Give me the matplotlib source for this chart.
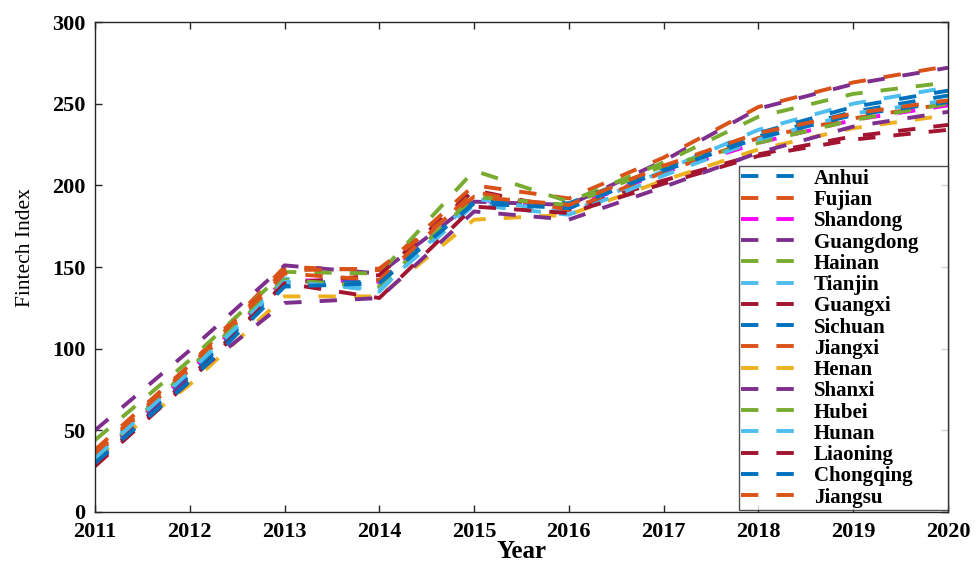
import matplotlib
matplotlib.use("Agg")
import matplotlib.pyplot as plt

years = [2011, 2012, 2013, 2014, 2015, 2016, 2017, 2018, 2019, 2020]

provinces = ["Anhui", "Fujian", "Shandong", "Guangdong", "Hainan", "Tianjin",
             "Guangxi", "Sichuan", "Jiangxi", "Henan", "Shanxi", "Hubei",
             "Hunan", "Liaoning", "Chongqing", "Jiangsu"]

anhui     = [32, 84, 141, 140, 190, 187, 210, 230, 245, 255]
fujian    = [38, 90, 150, 148, 200, 192, 217, 248, 263, 273]
shandong  = [31, 86, 142, 141, 191, 186, 208, 226, 240, 249]
guangdong = [50, 99, 151, 146, 190, 188, 215, 247, 262, 272]
hainan    = [44, 93, 147, 146, 209, 190, 214, 242, 256, 263]
tianjin   = [34, 88, 143, 135, 192, 183, 209, 234, 250, 260]
guangxi   = [29, 82, 140, 145, 197, 185, 203, 219, 230, 237]
sichuan   = [31, 83, 140, 141, 190, 189, 211, 232, 248, 258]
jiangxi   = [35, 87, 146, 142, 196, 185, 208, 229, 241, 250]
henan     = [33, 78, 132, 132, 179, 182, 203, 222, 235, 243]
shanxi    = [30, 82, 128, 131, 184, 179, 199, 220, 236, 245]
hubei     = [32, 88, 142, 138, 193, 188, 212, 226, 240, 250]
hunan     = [33, 86, 141, 136, 188, 182, 206, 228, 244, 252]
liaoning  = [28, 80, 140, 131, 187, 183, 201, 218, 228, 234]
chongqing = [30, 80, 138, 140, 189, 186, 209, 229, 243, 251]
jiangsu   = [36, 89, 148, 149, 193, 188, 212, 232, 244, 252]

series = [anhui, fujian, shandong, guangdong, hainan, tianjin, guangxi, sichuan,
          jiangxi, henan, shanxi, hubei, hunan, liaoning, chongqing, jiangsu]

colors = ["#0072BD", "#D95319", "#FF00FF", "#7E2F8E", "#77AC30", "#4DBEEE",
          "#A2142F", "#0072BD", "#D95319", "#EDB120", "#7E2F8E", "#77AC30",
          "#4DBEEE", "#A2142F", "#0072BD", "#D95319"]

plt.rcParams["lines.scale_dashes"] = False
plt.rcParams["font.family"] = ["Liberation Serif", "DejaVu Serif"]

fig = plt.figure(figsize=(9.76, 5.63), dpi=100)
ax = fig.add_axes([0.0973, 0.0906, 0.8740, 0.8703])

for name, vals, c in zip(provinces, series, colors):
    ax.plot(years, vals, color=c, lw=2.8, linestyle=(0, (12.5, 13)),
            label=name, dash_capstyle="butt")

ax.set_xlim(2011, 2020)
ax.set_ylim(0, 300)
ax.set_xticks(years)
ax.set_yticks([0, 50, 100, 150, 200, 250, 300])
ax.tick_params(direction="in", top=True, right=True, length=5, width=1,
               color="#262626", labelsize=16)
ax.tick_params(axis="x", pad=7)
ax.tick_params(axis="y", pad=7)
for lab in ax.get_xticklabels() + ax.get_yticklabels():
    lab.set_fontweight("bold")
for s in ax.spines.values():
    s.set_color("#262626")
    s.set_linewidth(1.0)

ax.set_xlabel("Year", fontsize=18, fontweight="bold")
ax.set_ylabel("Fintech Index", fontsize=15.5)
ax.xaxis.set_label_coords(0.5, -0.058)
ax.yaxis.set_label_coords(-0.07, 0.54)

leg = ax.legend(loc="lower left", bbox_to_anchor=(0.755, 0.004, 0.245, 0.70),
                mode="expand", prop={"weight": "bold", "size": 15},
                handlelength=2.6, handletextpad=0.87, labelspacing=0.06,
                borderpad=0.12, borderaxespad=0.0, frameon=True, fancybox=False)
leg.get_frame().set_edgecolor("#262626")
leg.get_frame().set_linewidth(1.0)

fig.savefig("out.png", dpi=100)
